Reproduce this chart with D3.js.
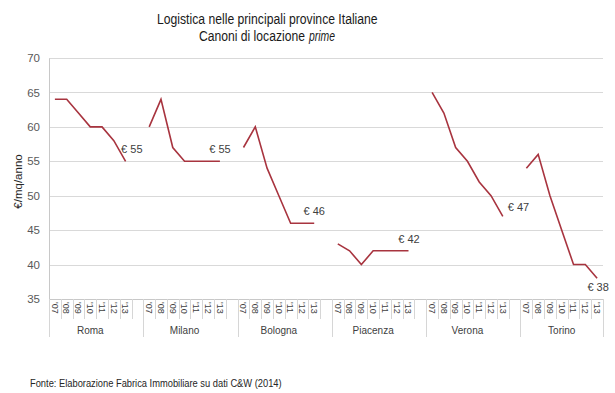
<!DOCTYPE html>
<html>
<head>
<meta charset="utf-8">
<script src="https://cdn.jsdelivr.net/npm/d3@7"></script>
<style>
  html, body { margin: 0; padding: 0; background: #fff; }
  svg { display: block; }
  text { font-family: "Liberation Sans", Arial, sans-serif; }
</style>
</head>
<body>
<svg id="chart" width="615" height="393"></svg>
<script>
// Prime logistics rents by province, 2007-2013 (€/mq/anno)
const provinces = ["Roma", "Milano", "Bologna", "Piacenza", "Verona", "Torino"];
const years = ["'07", "'08", "'09", "'10", "'11", "'12", "'13"];
const roma     = [64, 64, 62, 60, 60, 58, 55];
const milano   = [60, 64, 57, 55, 55, 55, 55];
const bologna  = [57, 60, 54, 50, 46, 46, 46];
const piacenza = [43, 42, 40, 42, 42, 42, 42];
const verona   = [65, 62, 57, 55, 52, 50, 47];
const torino   = [54, 56, 50, 45, 40, 40, 38];
const yTicks = [35, 40, 45, 50, 55, 60, 65, 70];

const series = [roma, milano, bologna, piacenza, verona, torino];

const svg = d3.select("#chart");
const plotLeft = 49, plotRight = 603, plotTop = 58, plotBottom = 299;
const lineColor = "#a8343f";
const axisColor = "#c8c8c8";
const textColor = "#404040";

// end-of-line value label placement: [anchor, dx, dy] from the last point
const labelPlacement = [
  ["start", -4.5, -8],
  ["middle", 0, -8],
  ["middle", 0, -8],
  ["middle", 0.5, -8],
  ["start", 5, -5],
  ["middle", 1, 12.5]
];

// draws a horizontally condensed text line starting at (x0, yBase), squeezed to the given width
function condensedText(x0, yBase, width, size, str, italic) {
  const g = svg.append("g");
  const t = g.append("text")
    .attr("font-size", size).attr("fill", "#1a1a1a")
    .attr("font-style", italic ? "italic" : null)
    .text(str);
  const natural = t.node().getComputedTextLength();
  g.attr("transform", `translate(${x0},${yBase}) scale(${width / natural},1)`);
  return t;
}

// one slot per year, plus an empty slot between province groups
const slots = [];
provinces.forEach((p, gi) => {
  years.forEach((yr) => slots.push({ key: p + yr, group: gi, year: yr }));
  if (gi < provinces.length - 1) slots.push({ key: p + "_gap", group: gi, year: null });
});

const x = d3.scaleBand().domain(slots.map(s => s.key)).range([plotLeft, plotRight]).paddingInner(0).paddingOuter(0);
const y = d3.scaleLinear().domain([35, 70]).range([plotBottom, plotTop]);

// gridlines
svg.append("g")
  .selectAll("line")
  .data(yTicks)
  .join("line")
  .attr("x1", plotLeft).attr("x2", plotRight)
  .attr("y1", d => Math.round(y(d)) + 0.5).attr("y2", d => Math.round(y(d)) + 0.5)
  .attr("stroke", "#d9d9d9").attr("stroke-width", 1);

// y axis
const yAxis = svg.append("g")
  .attr("transform", `translate(${plotLeft},0)`)
  .call(d3.axisLeft(y).tickValues(yTicks).tickSize(0).tickPadding(9));
yAxis.select(".domain").attr("stroke", axisColor);
yAxis.selectAll("text").attr("font-size", 11.5).attr("fill", "#595959")
  .style("font-family", "'Liberation Sans', Arial, sans-serif");

svg.append("text")
  .attr("transform", `translate(22,${(plotTop + plotBottom) / 2 + 3}) rotate(-90)`)
  .attr("text-anchor", "middle")
  .attr("font-size", 11.5).attr("fill", "#262626")
  .text("€/mq/anno");

// x axis baseline
svg.append("line")
  .attr("x1", plotLeft).attr("x2", plotRight)
  .attr("y1", plotBottom + 0.5).attr("y2", plotBottom + 0.5)
  .attr("stroke", axisColor);

// slot divider ticks
const bw = x.bandwidth();
svg.append("g")
  .selectAll("line")
  .data(slots)
  .join("line")
  .attr("x1", d => Math.round(x(d.key) + bw) + 0.5).attr("x2", d => Math.round(x(d.key) + bw) + 0.5)
  .attr("y1", plotBottom).attr("y2", plotBottom + 20)
  .attr("stroke", "#d6d6d6");

// group divider lines
const groupStarts = provinces.map((p) => x(p + years[0]));
const groupEnds = provinces.map((p, gi) => gi < provinces.length - 1 ? x(p + "_gap") + bw : plotRight);
svg.append("g")
  .selectAll("line")
  .data([plotLeft].concat(groupEnds))
  .join("line")
  .attr("x1", d => Math.round(d) + 0.5).attr("x2", d => Math.round(d) + 0.5)
  .attr("y1", plotBottom).attr("y2", plotBottom + 38)
  .attr("stroke", "#d6d6d6");

// year labels, rotated to read downward
svg.append("g")
  .selectAll("text")
  .data(slots.filter(s => s.year))
  .join("text")
  .attr("transform", d => `translate(${x(d.key) + bw / 2 - 3.2},${plotBottom + 3}) rotate(90)`)
  .attr("text-anchor", "start")
  .attr("font-size", 9).attr("fill", textColor)
  .text(d => d.year);

// province labels
svg.append("g")
  .selectAll("text")
  .data(provinces)
  .join("text")
  .attr("x", (p, gi) => (groupStarts[gi] + x(p + years[6]) + bw) / 2)
  .attr("y", plotBottom + 35)
  .attr("text-anchor", "middle")
  .attr("font-size", 10).attr("fill", textColor)
  .text(p => p);

// series lines
const line = d3.line()
  .x(d => x(d.key) + bw / 2)
  .y(d => y(d.v));

series.forEach((vals, gi) => {
  const pts = vals.map((v, i) => ({ key: provinces[gi] + years[i], v }));
  svg.append("path")
    .datum(pts)
    .attr("d", line)
    .attr("fill", "none")
    .attr("stroke", lineColor)
    .attr("stroke-width", 1.6)
    .attr("stroke-linejoin", "miter");

  const last = pts[pts.length - 1];
  const px = x(last.key) + bw / 2, py = y(last.v);
  const [anchor, dx, dy] = labelPlacement[gi];
  svg.append("text")
    .attr("x", px + dx).attr("y", py + dy)
    .attr("text-anchor", anchor)
    .attr("font-size", 11).attr("fill", textColor)
    .text("€ " + last.v);
});

// title, two lines
condensedText(157, 23.5, 221, 14.5, "Logistica nelle principali province Italiane", false);
condensedText(199, 40.5, 106, 14.5, "Canoni di locazione", false);
condensedText(309, 40.5, 26, 14.5, "prime", true);

// source note
condensedText(30, 387, 252, 10, "Fonte: Elaborazione Fabrica Immobiliare su dati C&W (2014)", false)
  .attr("fill", "#262626");
</script>
</body>
</html>
